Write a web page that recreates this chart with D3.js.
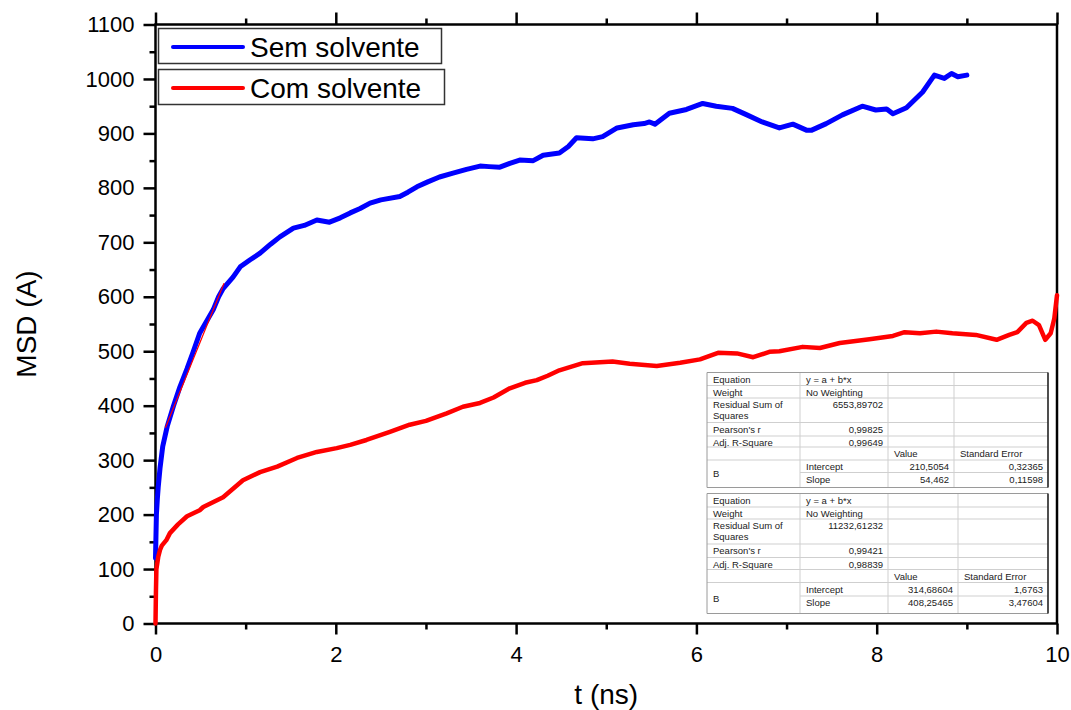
<!DOCTYPE html>
<html>
<head>
<meta charset="utf-8">
<script src="https://cdn.jsdelivr.net/npm/d3@7"></script>
<style>
  body { margin: 0; background: #fff; }
  svg { display: block; font-family: Arial, "Liberation Sans", sans-serif; }
</style>
</head>
<body>
<svg id="chart" width="1071" height="710"></svg>
<script>
// MSD (A) versus time (ns), with and without solvent
const tSem = [0, 0.005, 0.01, 0.02, 0.03, 0.05, 0.08, 0.13, 0.2, 0.27, 0.35, 0.42, 0.49, 0.57, 0.64, 0.7, 0.75,
  0.86, 0.94, 1.05, 1.16, 1.28, 1.38, 1.53, 1.65, 1.79, 1.93, 2.05, 2.16, 2.27, 2.38, 2.5, 2.71, 2.8,
  2.9, 3.02, 3.15, 3.3, 3.45, 3.6, 3.7, 3.82, 3.93, 4.04, 4.19, 4.3, 4.48, 4.58, 4.67, 4.85, 4.96, 5.12,
  5.3, 5.42, 5.48, 5.54, 5.7, 5.89, 6.07, 6.22, 6.4, 6.56, 6.73, 6.92, 7.07, 7.22, 7.28, 7.44, 7.62, 7.84,
  7.99, 8.11, 8.18, 8.33, 8.51, 8.64, 8.75, 8.83, 8.9, 9.0];
const msdSem = [120, 160, 200, 228, 250, 285, 325, 362, 400, 434, 468, 500, 533, 556, 576, 600, 615,
  636, 655, 668, 680, 697, 710, 726, 731, 741, 737, 745, 754, 762, 772, 778, 784, 792,
  802, 811, 820, 827, 834, 840, 839, 838, 845, 851, 850, 860, 864, 876, 892, 890, 894, 910,
  916, 918, 921, 917, 937, 944, 955, 950, 946, 934, 921, 910, 917, 906, 906, 918, 934, 950,
  943, 945, 936, 947, 976, 1007, 1001, 1010, 1004, 1007];

const tCom = [0, 0.005, 0.01, 0.03, 0.05, 0.07, 0.12, 0.16, 0.25, 0.35, 0.49, 0.53, 0.75, 0.97, 1.16, 1.35,
  1.57, 1.79, 2.01, 2.16, 2.34, 2.6, 2.82, 3.0, 3.23, 3.41, 3.6, 3.75, 3.93, 4.1, 4.23, 4.35, 4.48, 4.74,
  5.07, 5.26, 5.56, 5.82, 6.04, 6.24, 6.45, 6.63, 6.81, 6.92, 7.18, 7.37, 7.59, 7.92, 8.18, 8.31, 8.48,
  8.66, 8.84, 9.1, 9.33, 9.47, 9.56, 9.66, 9.73, 9.8, 9.87, 9.93, 9.97, 10.0];
const msdCom = [0, 60, 100, 122, 135, 143, 153, 166, 182, 197, 208, 214, 232, 263, 278, 288,
  304, 315, 322, 328, 337, 352, 365, 372, 386, 398, 405, 415, 432, 442, 447, 455, 465, 478,
  481, 477, 473, 479, 485, 497, 496, 489, 499, 500, 508, 506, 515, 522, 528, 535, 533,
  536, 533, 530, 521, 530, 535, 552, 556, 548, 521, 533, 560, 603];

const seriesNames = ["Sem solvente", "Com solvente"];
const seriesColors = ["#0000ff", "#ff0000"];

const xMajorTicks = [0, 2, 4, 6, 8, 10];
const xMinorTicks = [1, 3, 5, 7, 9];
const yMajorTicks = [0, 100, 200, 300, 400, 500, 600, 700, 800, 900, 1000, 1100];
const yMinorTicks = [50, 150, 250, 350, 450, 550, 650, 750, 850, 950, 1050];

// Linear fit on the early part of the "Sem solvente" curve
const fitSemIntercept = 314.68604;
const fitSemSlope = 408.25465;
const fitSemRange = [0.11, 0.76];

// Fit report tables
const tableComRows = [
  ["Equation", "y = a + b*x", "", ""],
  ["Weight", "No Weighting", "", ""],
  ["Residual Sum of|Squares", "6553,89702", "", ""],
  ["Pearson's r", "0,99825", "", ""],
  ["Adj. R-Square", "0,99649", "", ""],
  ["", "", "Value", "Standard Error"],
  ["B", "Intercept", "210,5054", "0,32365"],
  ["", "Slope", "54,462", "0,11598"]
];
const tableSemRows = [
  ["Equation", "y = a + b*x", "", ""],
  ["Weight", "No Weighting", "", ""],
  ["Residual Sum of|Squares", "11232,61232", "", ""],
  ["Pearson's r", "0,99421", "", ""],
  ["Adj. R-Square", "0,98839", "", ""],
  ["", "", "Value", "Standard Error"],
  ["B", "Intercept", "314,68604", "1,6763"],
  ["", "Slope", "408,25465", "3,47604"]
];

const svg = d3.select("#chart");

const x = d3.scaleLinear().domain([0, 10]).range([155.5, 1057]);
const y = d3.scaleLinear().domain([0, 1100]).range([623.5, 24.5]);

const axisStyle = g => {
  g.select(".domain").remove();
  g.selectAll(".tick line").attr("stroke", "#000").attr("stroke-width", 2.5);
  g.selectAll(".tick text").attr("fill", "#000").attr("font-size", 22)
    .attr("font-family", 'Arial, "Liberation Sans", sans-serif');
};

// bottom axis
svg.append("g").attr("transform", `translate(0,${y(0)})`)
  .call(d3.axisBottom(x).tickValues(xMajorTicks).tickSize(11).tickPadding(12).tickFormat(d3.format("d")))
  .call(axisStyle);
svg.append("g").attr("transform", `translate(0,${y(0)})`)
  .call(d3.axisBottom(x).tickValues(xMinorTicks).tickSize(6).tickFormat(""))
  .call(axisStyle);
// top axis (ticks only)
svg.append("g").attr("transform", `translate(0,${y(1100)})`)
  .call(d3.axisTop(x).tickValues(xMajorTicks).tickSize(12).tickFormat(""))
  .call(axisStyle);
svg.append("g").attr("transform", `translate(0,${y(1100)})`)
  .call(d3.axisTop(x).tickValues(xMinorTicks).tickSize(6).tickFormat(""))
  .call(axisStyle);
// left axis
svg.append("g").attr("transform", `translate(${x(0)},0)`)
  .call(d3.axisLeft(y).tickValues(yMajorTicks).tickSize(12).tickPadding(9).tickFormat(d3.format("d")))
  .call(axisStyle);
svg.append("g").attr("transform", `translate(${x(0)},0)`)
  .call(d3.axisLeft(y).tickValues(yMinorTicks).tickSize(6).tickFormat(""))
  .call(axisStyle);

// frame
svg.append("rect")
  .attr("x", x(0)).attr("y", y(1100))
  .attr("width", x(10) - x(0)).attr("height", y(0) - y(1100))
  .attr("fill", "none").attr("stroke", "#000").attr("stroke-width", 2.5);

// axis titles
svg.append("text").attr("x", (x(0) + x(10)) / 2).attr("y", 704)
  .attr("text-anchor", "middle").attr("font-size", 28).attr("fill", "#000").text("t (ns)");
svg.append("text").attr("transform", `translate(36,${(y(0) + y(1100)) / 2}) rotate(-90)`)
  .attr("text-anchor", "middle").attr("font-size", 28).attr("fill", "#000").text("MSD (A)");

// curves
const line = d3.line().x(d => x(d[0])).y(d => y(d[1]));
const semData = tSem.map((t, i) => [t, msdSem[i]]);
const comData = tCom.map((t, i) => [t, msdCom[i]]);

svg.append("path").datum(semData).attr("d", line)
  .attr("fill", "none").attr("stroke", seriesColors[0]).attr("stroke-width", 5)
  .attr("stroke-linejoin", "round").attr("stroke-linecap", "round");
svg.append("path").datum(comData).attr("d", line)
  .attr("fill", "none").attr("stroke", seriesColors[1]).attr("stroke-width", 4.5)
  .attr("stroke-linejoin", "round").attr("stroke-linecap", "round");

// fit line
const fitData = fitSemRange.map(t => [t, fitSemIntercept + fitSemSlope * t]);
svg.append("path").datum(fitData).attr("d", line)
  .attr("fill", "none").attr("stroke", "#ff0000").attr("stroke-width", 1.2);

// legend (one framed box per series)
const legendBoxes = [
  { x0: 158.5, y0: 28.5, w: 283, h: 35 },
  { x0: 158.5, y0: 69.5, w: 286, h: 35 }
];
seriesNames.forEach((name, i) => {
  const b = legendBoxes[i];
  const g = svg.append("g");
  g.append("rect").attr("x", b.x0).attr("y", b.y0).attr("width", b.w).attr("height", b.h)
    .attr("fill", "#fff").attr("stroke", "#333").attr("stroke-width", 1.5);
  g.append("line").attr("x1", 173).attr("x2", 243)
    .attr("y1", b.y0 + 18.5).attr("y2", b.y0 + 18.5)
    .attr("stroke", seriesColors[i]).attr("stroke-width", 4).attr("stroke-linecap", "round");
  g.append("text").attr("x", 250).attr("y", b.y0 + 28.5)
    .attr("font-size", 28).attr("fill", "#000").text(name);
});

// fit report tables
function drawTable(rows, cols, rowEdges) {
  const g = svg.append("g").attr("font-size", 9.5).attr("fill", "#222");
  const left = cols[0], right = cols[cols.length - 1];
  const top = rowEdges[0], bottom = rowEdges[rowEdges.length - 1];
  g.append("rect").attr("x", left).attr("y", top).attr("width", right - left).attr("height", bottom - top)
    .attr("fill", "#fff");
  // inner horizontal rules
  for (let i = 1; i < rowEdges.length - 1; i++) {
    g.append("line").attr("x1", i === 7 ? cols[1] : left).attr("x2", right)
      .attr("y1", rowEdges[i]).attr("y2", rowEdges[i])
      .attr("stroke", "#cfcfcf").attr("stroke-width", 1);
  }
  // inner vertical rules
  for (let j = 1; j < cols.length - 1; j++) {
    g.append("line").attr("x1", cols[j]).attr("x2", cols[j])
      .attr("y1", top).attr("y2", bottom)
      .attr("stroke", "#cfcfcf").attr("stroke-width", 1);
  }
  // outer border
  g.append("path")
    .attr("d", `M${right},${bottom}H${left}V${top}H${right}`)
    .attr("fill", "none").attr("stroke", "#9a9a9a").attr("stroke-width", 1);
  g.append("line").attr("x1", right).attr("x2", right).attr("y1", top).attr("y2", bottom)
    .attr("stroke", "#222").attr("stroke-width", 1.6);

  const numeric = s => /^[0-9.,]+$/.test(s);
  rows.forEach((row, r) => {
    row.forEach((cell, c) => {
      if (!cell) return;
      const rt = rowEdges[r];
      if (cell === "B") {
        g.append("text").attr("x", cols[0] + 6).attr("y", (rowEdges[6] + rowEdges[8]) / 2 + 3.5).text(cell);
        return;
      }
      const lines = cell.split("|");
      lines.forEach((ln, k) => {
        const t = g.append("text").attr("y", rt + 10 + k * 10.5).text(ln);
        if (numeric(ln)) t.attr("x", cols[c + 1] - 5).attr("text-anchor", "end");
        else t.attr("x", cols[c] + 6);
      });
    });
  });
}

drawTable(tableComRows, [707, 800, 888, 954, 1048],
  [372.5, 385.5, 398, 422.5, 436, 447, 460, 472.5, 487.5]);
drawTable(tableSemRows, [707, 800, 888, 958, 1048],
  [493.5, 507, 519, 544, 557.5, 569.5, 582.5, 596, 613.5]);
</script>
</body>
</html>
